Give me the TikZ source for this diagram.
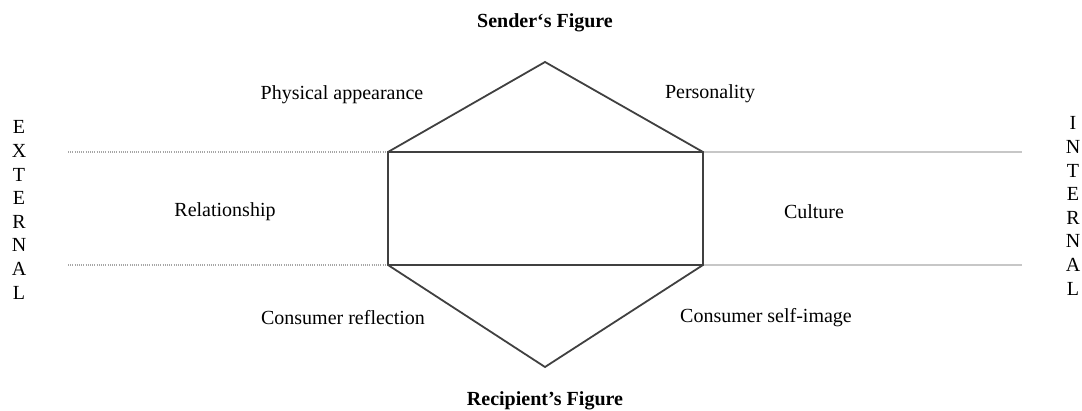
\documentclass[tikz,border=0pt]{standalone}
\usepackage{fontspec}
\setmainfont{Liberation Serif}
\usetikzlibrary{positioning}

\begin{document}
\begin{tikzpicture}[
  x=0.5pt, y=-0.5pt,
  lbl/.style={inner sep=1pt, font=\fontsize{10}{12}\selectfont},
  head/.style={inner sep=1pt, font=\fontsize{10}{12}\selectfont\bfseries},
  side/.style={inner sep=0pt, align=center, font=\fontsize{10}{11.8}\selectfont},
  hex/.style={draw=black!75, line width=0.9pt, line join=miter},
  extline/.style={draw=black!35, line width=0.6pt, dash pattern=on 0.5pt off 0.6pt},
  intline/.style={draw=black!22, line width=0.6pt}
]
\useasboundingbox (0,0) rectangle (1082,411);

% hexagon corners
\coordinate (top) at (545,62);
\coordinate (ul) at (388,152);
\coordinate (ur) at (703,152);
\coordinate (ll) at (388,265);
\coordinate (lr) at (703,265);
\coordinate (bot) at (545,367);

% guide lines
\coordinate (extA) at (68,152);
\coordinate (extB) at (68,265);
\coordinate (intA) at (1022,152);
\coordinate (intB) at (1022,265);
\draw[extline] (extA) -- (ul);
\draw[extline] (extB) -- (ll);
\draw[intline] (ur) -- (intA);
\draw[intline] (lr) -- (intB);

\draw[hex] (ul) -- (top) -- (ur) -- (lr) -- (bot) -- (ll) -- cycle;
\draw[hex] (ul) -- (ur);
\draw[hex] (ll) -- (lr);

\node[head] (sender) at (545,23) {Sender‘s Figure};
\node[head] (recip) at (545,401) {Recipient’s Figure};

\node[lbl] (phys) at (342,95) {Physical appearance};
\node[lbl] (pers) at (710,94) {Personality};
\node[lbl] (rel) at (225,212) {Relationship};
\node[lbl] (cult) at (814,212) {Culture};
\node[lbl] (refl) at (343,318) {Consumer reflection};
\node[lbl] (self) at (766,318) {Consumer self-image};

\node[side] (external) at (19,210) {E\\X\\T\\E\\R\\N\\A\\L};
\node[side] (internal) at (1073,206) {I\\N\\T\\E\\R\\N\\A\\L};
\end{tikzpicture}
\end{document}
